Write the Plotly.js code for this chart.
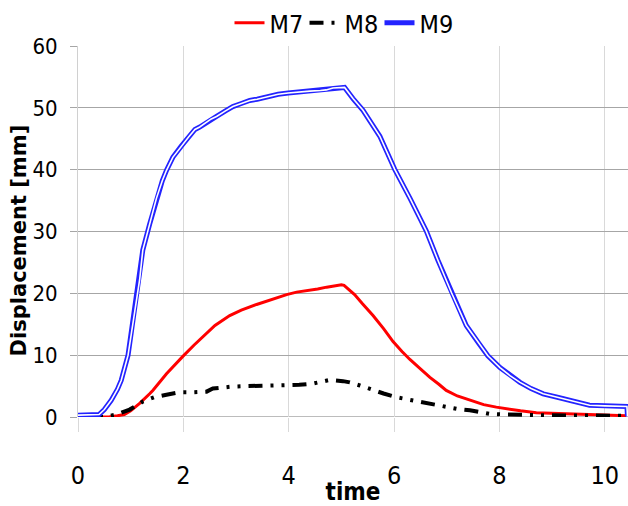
<!DOCTYPE html>
<html>
<head>
<meta charset="utf-8">
<script src="https://cdn.plot.ly/plotly-3.0.1.min.js"></script>
<style>html,body{margin:0;padding:0;background:#fff;}#chart{width:628px;height:506px;}</style>
</head>
<body>
<div id="chart"></div>
<script>
// M9 (blue double line)
const m9X = [0, 0.2, 0.4, 0.5, 0.63, 0.75, 0.82, 0.95, 1.04, 1.17, 1.23, 1.36, 1.49, 1.6, 1.68, 1.8, 1.96, 2.1, 2.22, 2.31, 2.53, 2.63, 2.8, 2.94, 3.1, 3.26, 3.4, 3.58, 3.8, 3.99, 4.2, 4.4, 4.6, 4.71, 4.84, 5.06, 5.22, 5.41, 5.73, 6.01, 6.3, 6.61, 6.83, 7.09, 7.37, 7.6, 7.78, 8.01, 8.2, 8.39, 8.6, 8.83, 9.1, 9.34, 9.5, 9.71, 10.0, 10.2, 10.42, 10.43];
const m9Y = [0.3, 0.3, 0.4, 1.2, 2.7, 4.5, 5.9, 10, 15.3, 22.2, 27, 31.2, 35.4, 38.2, 39.9, 42.0, 43.8, 45.3, 46.5, 46.9, 48.2, 48.6, 49.5, 50.2, 50.7, 51.2, 51.4, 51.8, 52.2, 52.4, 52.6, 52.7, 52.8, 52.9, 53.2, 53.3, 51.5, 49.6, 45.4, 40.1, 35.4, 30.1, 25.4, 20.1, 14.8, 12.0, 9.9, 8.0, 6.7, 5.6, 4.6, 3.75, 3.2, 2.7, 2.3, 1.9, 1.8, 1.7, 1.7, 0.1];
// M7 (red)
const m7X = [0, 0.3, 0.6, 0.75, 0.88, 1.0, 1.17, 1.36, 1.42, 1.68, 1.9, 1.99, 2.2, 2.37, 2.6, 2.88, 3.1, 3.39, 3.7, 3.96, 4.15, 4.34, 4.55, 4.72, 4.9, 5.0, 5.05, 5.16, 5.25, 5.4, 5.6, 5.8, 5.98, 6.15, 6.3, 6.5, 6.68, 6.85, 6.99, 7.2, 7.44, 7.7, 7.94, 8.07, 8.4, 8.7, 9.0, 9.21, 9.6, 10.0, 10.41];
const m7Y = [0, 0, 0.05, 0.2, 0.4, 1.0, 2.2, 3.75, 4.3, 7.0, 9.1, 9.8, 11.6, 13.0, 14.8, 16.4, 17.3, 18.2, 19.1, 19.8, 20.2, 20.4, 20.7, 21.0, 21.2, 21.4, 21.3, 20.4, 19.8, 18.3, 16.4, 14.3, 12.2, 10.6, 9.3, 7.8, 6.4, 5.3, 4.3, 3.4, 2.7, 2.0, 1.6, 1.4, 1.0, 0.7, 0.6, 0.5, 0.4, 0.3, 0.2];
// M8 (black dash-dot)
const m8X = [0, 0.5, 0.73, 0.98, 1.23, 1.45, 1.68, 1.93, 2.2, 2.44, 2.56, 2.9, 3.2, 3.6, 3.96, 4.2, 4.46, 4.65, 4.78, 5.03, 5.16, 5.35, 5.54, 5.8, 6.04, 6.3, 6.55, 6.8, 6.99, 7.2, 7.44, 7.56, 7.82, 8.1, 8.39, 8.8, 9.3, 9.8, 10.2, 10.43];
const m8Y = [0, 0, 0.4, 1.2, 2.5, 3.2, 3.6, 4.0, 4.0, 4.1, 4.6, 4.9, 5.0, 5.1, 5.1, 5.2, 5.4, 5.8, 6.0, 5.8, 5.6, 5.1, 4.5, 3.8, 3.2, 2.8, 2.3, 1.9, 1.6, 1.3, 1.1, 0.95, 0.5, 0.4, 0.3, 0.3, 0.25, 0.2, 0.2, 0.2];

const xTicks = [0, 2, 4, 6, 8, 10];
const yTicks = [0, 10, 20, 30, 40, 50, 60];
const yTitle = 'Displacement [mm]';
const xTitle = 'time';

const narrow = '"Liberation Sans Narrow", "DejaVu Sans Condensed", "Roboto Condensed", sans-serif';

const traces = [
  {x: m7X, y: m7Y, name: 'M7', mode: 'lines', line: {color: '#ff0000', width: 3}},
  {x: m8X, y: m8Y, name: 'M8', mode: 'lines', line: {color: '#000000', width: 4, dash: '14px,8px,3px,8px,3px,8px'}},
  {x: m9X, y: m9Y, name: 'M9', mode: 'lines', line: {color: '#2323ff', width: 5}},
  {x: m9X, y: m9Y, name: 'M9', mode: 'lines', showlegend: false, hoverinfo: 'skip', line: {color: '#ffffff', width: 1.6}}
];

const layout = {
  width: 628, height: 506,
  margin: {l: 78, r: 0, t: 38, b: 89},
  paper_bgcolor: '#ffffff', plot_bgcolor: '#ffffff',
  showlegend: true,
  legend: {orientation: 'h', x: 0.48, xanchor: 'center', y: 1, yanchor: 'bottom', xref: 'paper',
           font: {family: narrow, size: 25, color: '#000'}, entrywidth: 30, tracegroupgap: 0,
           bgcolor: 'rgba(0,0,0,0)'},
  xaxis: {
    range: [0, 10.44], tickvals: xTicks, ticktext: xTicks.map(String),
    showgrid: true, gridcolor: '#d9d9d9', gridwidth: 1,
    ticks: 'outside', ticklen: 14, tickcolor: '#d9d9d9', tickwidth: 1,
    ticklabelstandoff: 22,
    showline: false, zeroline: false,
    tickfont: {family: narrow, size: 25, color: '#000'},
    title: {text: xTitle, font: {family: narrow, size: 24, color: '#000', weight: 'bold'}, standoff: 0}
  },
  yaxis: {
    range: [0, 60], tickvals: yTicks, ticktext: yTicks.map(String),
    showgrid: true, gridcolor: '#a6a6a6', gridwidth: 1,
    ticks: 'outside', ticklen: 7, tickcolor: '#a6a6a6', tickwidth: 1,
    ticklabelstandoff: 8,
    showline: true, linecolor: '#d0d0d0', linewidth: 1,
    zeroline: false,
    tickfont: {family: narrow, size: 22, color: '#000'}
  },
  annotations: [
    {text: yTitle, xref: 'paper', yref: 'paper', x: -0.108, y: 0.475, xanchor: 'center', yanchor: 'middle',
     textangle: -90, showarrow: false,
     font: {family: '"DejaVu Sans", Verdana, sans-serif', size: 21, color: '#000', weight: 'bold'}}
  ],
  shapes: [
    {type: 'line', xref: 'paper', yref: 'y', x0: 0, x1: 1, y0: 0, y1: 0, line: {color: '#a6a6a6', width: 1.5}, layer: 'below'}
  ]
};

Plotly.newPlot('chart', traces, layout, {displayModeBar: false, staticPlot: true});
</script>
</body>
</html>
